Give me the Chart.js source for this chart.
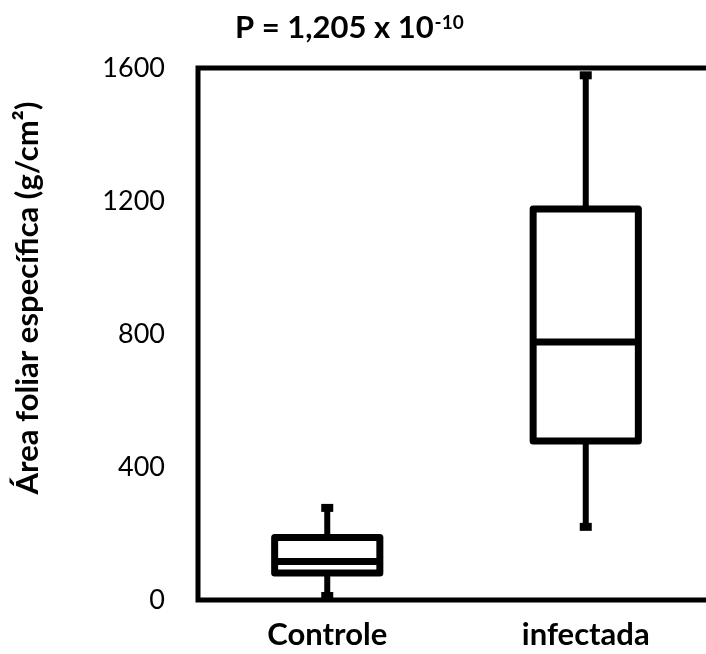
<!DOCTYPE html>
<html>
<head>
<meta charset="utf-8">
<script src="https://cdn.jsdelivr.net/npm/chart.js@4"></script>
<style>
  html, body { margin: 0; padding: 0; background: #fff; overflow: hidden; }
  #wrap { width: 722px; height: 654px; }
</style>
</head>
<body>
<div id="wrap"><canvas id="grafico" width="722" height="654"></canvas></div>
<script>
// Dados
const categorias = ["Controle", "infectada"];
const minimos = [12, 220];
const quartil1 = [81, 478];
const medianas = [116, 776];
const quartil3 = [188, 1176];
const maximos = [277, 1578];
const ticksY = [0, 400, 800, 1200, 1600];

const fonte = "Lato, 'Open Sans', sans-serif";

// Desenha caixas, bigodes, medianas, título e moldura usando as escalas
const boxPlugin = {
  id: "boxPlugin",
  afterDatasetsDraw(chart) {
    const { ctx, chartArea, scales } = chart;
    const y = scales.y;
    ctx.save();
    ctx.strokeStyle = "#000";
    ctx.fillStyle = "#000";
    const meta = chart.getDatasetMeta(0);
    categorias.forEach((c, i) => {
      const bar = meta.data[i];
      const cx = bar.x;
      const meia = bar.width / 2;
      const yMax = y.getPixelForValue(maximos[i]);
      const yMin = y.getPixelForValue(minimos[i]);
      const yQ1 = y.getPixelForValue(quartil1[i]);
      const yQ3 = y.getPixelForValue(quartil3[i]);
      const yMed = y.getPixelForValue(medianas[i]);
      // bigodes
      ctx.lineWidth = 6;
      ctx.lineCap = "butt";
      ctx.beginPath();
      ctx.moveTo(cx, yQ3);
      ctx.lineTo(cx, yMax);
      ctx.moveTo(cx, yQ1);
      ctx.lineTo(cx, yMin);
      ctx.stroke();
      // pontas
      ctx.fillRect(cx - 6, yMax - 4, 12, 8);
      ctx.fillRect(cx - 6, yMin - 4, 12, 8);
      // caixa
      ctx.lineWidth = 7;
      ctx.lineJoin = "round";
      ctx.strokeRect(cx - meia, yQ3, meia * 2, yQ1 - yQ3);
      // mediana
      ctx.lineWidth = 7;
      ctx.beginPath();
      ctx.moveTo(cx - meia, yMed);
      ctx.lineTo(cx + meia, yMed);
      ctx.stroke();
    });
    // moldura
    ctx.lineWidth = 5;
    ctx.lineJoin = "miter";
    ctx.beginPath();
    ctx.moveTo(chartArea.right + 10, chartArea.top);
    ctx.lineTo(chartArea.left, chartArea.top);
    ctx.lineTo(chartArea.left, chartArea.bottom);
    ctx.lineTo(chartArea.right + 10, chartArea.bottom);
    ctx.stroke();
    // título com expoente
    ctx.textBaseline = "alphabetic";
    ctx.textAlign = "left";
    ctx.font = "bold 31px " + fonte;
    const base = "P = 1,205 x 10";
    const w1 = ctx.measureText(base).width;
    ctx.fillText(base, 235, 38);
    ctx.font = "bold 19px " + fonte;
    ctx.fillText("-10", 235 + w1 + 1, 29);
    // título do eixo y
    ctx.translate(38, 298);
    ctx.rotate(-Math.PI / 2);
    ctx.textAlign = "center";
    ctx.font = "bold 31px " + fonte;
    ctx.fillText("Área foliar específica (g/cm²)", 0, 0);
    ctx.restore();
  }
};

new Chart(document.getElementById("grafico"), {
  type: "bar",
  data: {
    labels: categorias,
    datasets: [{
      data: quartil1.map((q, i) => [q, quartil3[i]]),
      backgroundColor: "#fff",
      borderWidth: 0,
      barPercentage: 0.407,
      categoryPercentage: 1
    }]
  },
  options: {
    responsive: false,
    animation: false,
    layout: { padding: { top: 68, left: 0, right: 7, bottom: 0 } },
    plugins: { legend: { display: false }, tooltip: { enabled: false } },
    scales: {
      x: {
        grid: { display: false, drawTicks: false },
        border: { display: false },
        ticks: { color: "#000", padding: 16, font: { family: fonte, size: 31, weight: "bold" } },
        afterFit(s) { s.height = 54; }
      },
      y: {
        min: 0,
        max: 1600,
        afterBuildTicks(s) { s.ticks = ticksY.map(v => ({ value: v })); },
        grid: { display: false, drawTicks: false },
        border: { display: false },
        ticks: {
          color: "#000",
          padding: 33,
          font: { family: fonte, size: 27 },
          callback: v => String(v)
        },
        afterFit(s) { s.width = 198; }
      }
    }
  },
  plugins: [boxPlugin]
});
</script>
</body>
</html>
